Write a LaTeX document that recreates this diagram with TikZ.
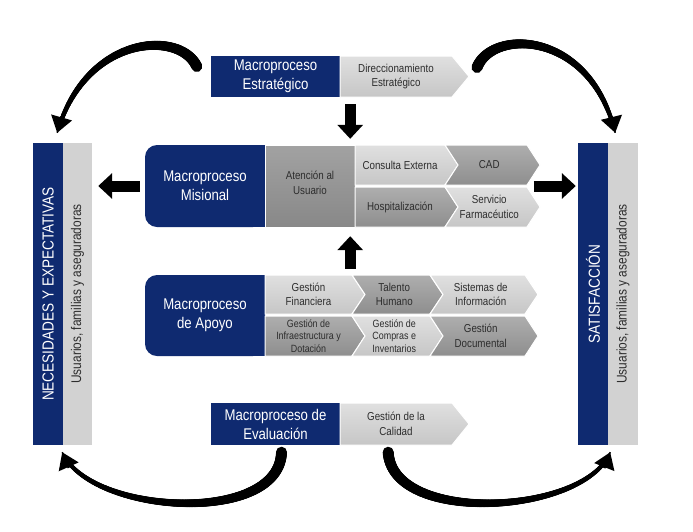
\documentclass[tikz,border=0pt]{standalone}
\usepackage{fontspec}
\setmainfont[FakeStretch=0.85]{Liberation Sans}
\usetikzlibrary{arrows.meta, calc, decorations.markings}

\definecolor{navy}{RGB}{15,42,112}
\definecolor{lgreyT}{RGB}{224,224,224}
\definecolor{lgreyB}{RGB}{198,198,198}
\definecolor{dgreyT}{RGB}{174,174,174}
\definecolor{dgreyB}{RGB}{142,142,142}
\definecolor{atT}{RGB}{162,162,162}
\definecolor{atB}{RGB}{136,136,136}
\definecolor{colgrey}{RGB}{210,210,210}
\definecolor{txtgrey}{RGB}{45,45,45}

\tikzset{
  bluebox/.style={fill=navy, text=white, align=center, inner sep=0pt, font=\fontsize{15.5}{19}\selectfont},
  chevtext/.style={align=center, inner sep=0pt, text=txtgrey, font=\fontsize{11.5}{14.5}\selectfont},
  smalltext/.style={font=\fontsize{10.5}{12.5}\selectfont},
  column/.style={inner sep=0pt, minimum width=30pt, minimum height=302pt},
  bigvert/.style={rotate=90, text=white, font=\fontsize{16}{19}\selectfont},
  smallvert/.style={rotate=90, text=txtgrey, font=\fontsize{14}{17}\selectfont},
  light/.style={top color=lgreyT, bottom color=lgreyB},
  dark/.style={top color=dgreyT, bottom color=dgreyB},
  blockarrow/.style={line width=11pt, -{Triangle[width=25pt,length=14pt]}},
  taper/.style={line width=1.5pt,
    postaction={decorate, decoration={markings,
      mark=between positions 0 and 0.95 step 0.6pt with {
        \pgfmathsetmacro{\rr}{5.5-3.7*\pgfkeysvalueof{/pgf/decoration/mark info/distance from start}/\pgfdecoratedpathlength}
        \fill (0,0) circle (\rr pt);}}}},
  curvehead/.style={line width=3pt, -{Triangle[width=21pt,length=16pt]}}
}

\def\tipd{13}
% [opts]{name}{x1}{x2}{top}{bottom}{style}{notch 0/1}{text}
\newcommand{\procarrow}[9][]{%
  \path[#7, draw=white, line width=1pt] (#3,#5) -- (#4,#5) -- ({#4+\tipd},{(#5+#6)/2}) -- (#4,#6)
    -- (#3,#6) -- ({#3+#8*\tipd},{(#5+#6)/2}) -- cycle;
  \coordinate (#2-tip) at ({#4+\tipd},{(#5+#6)/2});
  \node[chevtext, #1] (#2) at ({(#3+#4)/2+#8*\tipd/4},{(#5+#6)/2}) {#9};
}

\begin{document}
\begin{tikzpicture}[x=1pt, y=-1pt]
\useasboundingbox (0,0) rectangle (693,531);

% estrategico
\node[bluebox, minimum width=129pt, minimum height=41pt] (estrb) at (275.5,76.5) {Macroproceso\\Estratégico};
\def\tipd{17}
\procarrow{estrg}{340}{452}{56}{97}{light}{0}{Direccionamiento\\Estratégico}

% misional
\node[bluebox, rounded corners=12pt, minimum width=120pt, minimum height=82pt] (misb) at (205,186) {Macroproceso\\Misional};
\fill[navy] ([xshift=-14pt]misb.north east) rectangle (misb.south east);
\path[top color=atT, bottom color=atB, draw=white, line width=1pt] (265,145) rectangle (355,227);
\node[chevtext] (aten) at (310,183) {Atención al\\Usuario};
\def\tipd{13}
\procarrow{cons}{355}{445}{145}{185}{light}{0}{Consulta Externa}
\procarrow{cad}{445}{527}{145}{185}{dark}{1}{CAD}
\procarrow{hosp}{355}{445}{187}{227}{dark}{0}{Hospitalización}
\procarrow{farm}{445}{527}{187}{227}{light}{1}{Servicio\\Farmacéutico}

% apoyo
\node[bluebox, rounded corners=12pt, minimum width=120pt, minimum height=81pt] (apob) at (205,315.5) {Macroproceso\\de Apoyo};
\fill[navy] ([xshift=-14pt]apob.north east) rectangle (apob.south east);
\procarrow{fin}{265}{352}{275}{314}{light}{0}{Gestión\\Financiera}
\procarrow{tal}{352}{430}{275}{314}{dark}{1}{Talento\\Humano}
\procarrow{sis}{430}{525}{275}{314}{light}{1}{Sistemas de\\Información}
\procarrow[smalltext]{inf}{265}{352}{316}{356}{dark}{0}{Gestión de\\Infraestructura y\\Dotación}
\procarrow[smalltext]{com}{352}{430}{316}{356}{light}{1}{Gestión de\\Compras e\\Inventarios}
\procarrow{doc}{430}{525}{316}{356}{dark}{1}{Gestión\\Documental}

% evaluacion
\node[bluebox, minimum width=129pt, minimum height=42pt] (evalb) at (275.5,424) {Macroproceso de\\Evaluación};
\def\tipd{17}
\procarrow{evalg}{340}{452}{403}{445}{light}{0}{Gestión de la\\Calidad}

% columnas
\node[column, fill=navy] (necb) at (48,294) {};
\node[column, minimum width=29pt, fill=colgrey] (necg) at (77.5,294) {};
\node[bigvert] (necbt) at (necb) {NECESIDADES Y EXPECTATIVAS};
\node[smallvert] (necgt) at (necg) {Usuarios, familias y aseguradoras};
\node[column, fill=navy] (satb) at (593,294) {};
\node[column, fill=colgrey] (satg) at (623,294) {};
\node[bigvert] (satbt) at (satb) {SATISFACCIÓN};
\node[smallvert] (satgt) at (satg) {Usuarios, familias y aseguradoras};

% flechas
\draw[blockarrow] ($(estrb.south east)+(10,7)$) -- ($(estrb.south east |- misb.north)+(10,-6)$);
\draw[blockarrow] ($(estrb.south east |- apob.north)+(10,-6)$) -- ($(estrb.south east |- misb.south)+(10,9)$);
\draw[blockarrow] ($(misb.west)+(-5,0)$) -- ($(necg.east |- misb.west)+(6,0)$);
\draw[blockarrow] ($(satb.west |- misb.west)+(-44,0)$) -- ($(satb.west |- misb.west)+(-2,0)$);

% flechas curvas
\coordinate (tl-e) at ($(necb.north east)+(-6,-10)$);
\coordinate (tl-c) at ($(tl-e)+(28,-98)$);
\coordinate (tr-e) at ($(satb.north east)+(7,-10)$);
\coordinate (tr-c) at ($(tr-e)+(-25,-103)$);
\coordinate (bl-e) at ($(necb.south east)+(-1,7)$);
\coordinate (bl-c) at ($(bl-e)+(28,63)$);
\coordinate (br-e) at ($(satb.south east)+(2,7)$);
\coordinate (br-c) at ($(br-e)+(-25,63)$);
\draw[taper] ($(estrb.west)+(-14,-10)$) .. controls +(-17,-37) and (tl-c) .. (tl-e);
\draw[taper] ($(estrg-tip)+(8,-9)$) .. controls +(15,-39) and (tr-c) .. (tr-e);
\draw[taper] ($(evalb.south)+(6,7)$) .. controls +(-2,73) and (bl-c) .. (bl-e);
\draw[taper] ($(evalb.south east)+(48,7)$) .. controls +(4,73) and (br-c) .. (br-e);
\draw[curvehead] ($(tl-e)!17pt!(tl-c)$) -- (tl-e);
\draw[curvehead] ($(tr-e)!17pt!(tr-c)$) -- (tr-e);
\draw[curvehead] ($(bl-e)!17pt!(bl-c)$) -- (bl-e);
\draw[curvehead] ($(br-e)!17pt!(br-c)$) -- (br-e);
\end{tikzpicture}
\end{document}
